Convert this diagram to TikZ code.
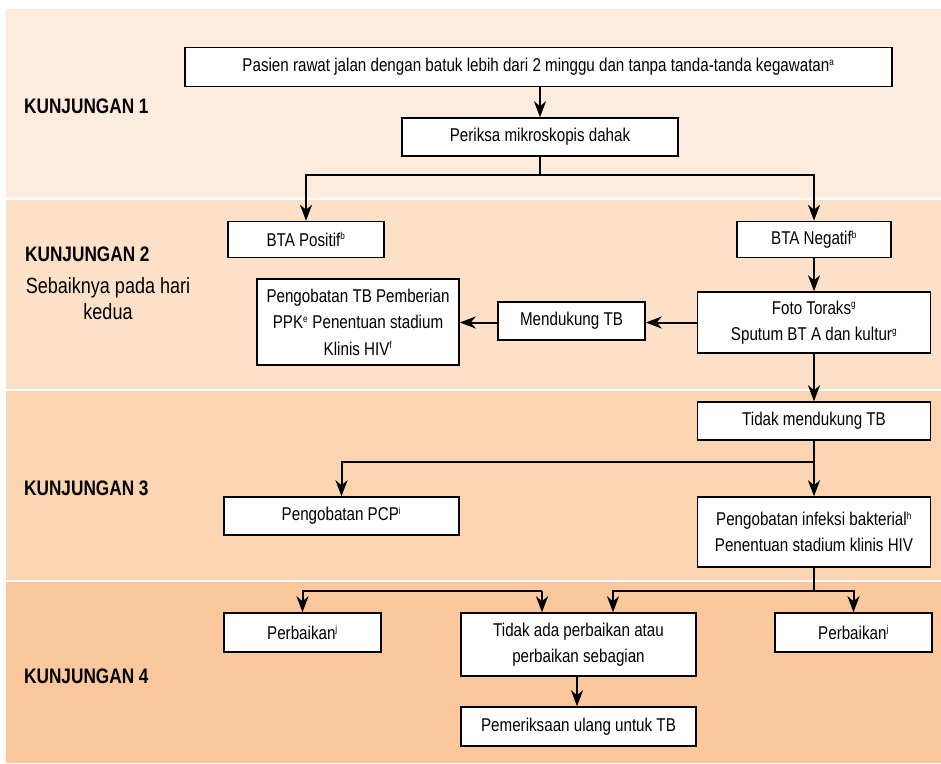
\documentclass[tikz,border=0pt]{standalone}
\usepackage{fontspec}
\setmainfont{Liberation Sans}[FakeStretch=0.82]
\usetikzlibrary{arrows.meta,calc}
\definecolor{bandA}{RGB}{253,235,221}
\definecolor{bandB}{RGB}{252,224,200}
\definecolor{bandC}{RGB}{251,212,178}
\definecolor{bandD}{RGB}{250,200,156}
\tikzset{
  box/.style={draw=black, line width=1.5pt, fill=white, inner sep=0pt, align=center,
    font=\fontsize{18.5}{26.5}\selectfont},
  arr/.style={line width=2pt, -{Stealth[length=16pt,width=12pt,inset=5pt]}},
  ln/.style={line width=2pt},
  visit/.style={anchor=west, font=\fontsize{21}{24}\selectfont\bfseries, inner sep=0pt},
  note/.style={align=center, font=\fontsize{22}{26}\selectfont, inner sep=0pt}
}
\newcommand{\sps}[1]{\textsuperscript{\fontsize{10}{10}\selectfont #1}}
\begin{document}
\begin{tikzpicture}[x=1pt,y=-1pt]
\useasboundingbox (0,0) rectangle (941,763);
\fill[white] (0,0) rectangle (941,763);
% bands
\fill[bandA] (6,9) rectangle (941,197.5);
\fill[bandB] (6,199.5) rectangle (941,389);
\fill[bandC] (6,391) rectangle (941,580);
\fill[bandD] (6,582) rectangle (941,763);
% visit labels
\node[visit] (k1) at (24,106) {KUNJUNGAN 1};
\node[visit] (k2) at (25,254) {KUNJUNGAN 2};
\node[note] (k2n) at (108,299) {Sebaiknya pada hari\\kedua};
\node[visit] (k3) at (24,488) {KUNJUNGAN 3};
\node[visit] (k4) at (24,676) {KUNJUNGAN 4};
% boxes
\node[box, minimum width=707pt, minimum height=39pt] (pasien) at (538.5,67) {Pasien rawat jalan dengan batuk lebih dari 2 minggu dan tanpa tanda-tanda kegawatan\sps{a}};
\node[box, minimum width=276pt, minimum height=38pt] (periksa) at (540,137) {Periksa mikroskopis dahak};
\node[box, minimum width=156pt, minimum height=36pt] (btapos) at (306,239.5) {BTA Positif\sps{b}};
\node[box, minimum width=154pt, minimum height=36pt] (btaneg) at (814,239.5) {BTA Negatif\sps{b}};
\node[box, minimum width=202pt, minimum height=86pt] (obatTB) at (358,322) {Pengobatan TB Pemberian\\PPK\sps{e} Penentuan stadium\\Klinis HIV\sps{f}};
\node[box, minimum width=147pt, minimum height=38pt] (dukung) at (571.5,321) {Mendukung TB};
\node[box, minimum width=233pt, minimum height=61pt] (foto) at (814,322.5) {Foto Toraks\sps{g}\\Sputum BT A dan kultur\sps{g}};
\node[box, minimum width=233pt, minimum height=38pt] (tidak) at (814,421) {Tidak mendukung TB};
\node[box, minimum width=235pt, minimum height=38pt] (pcp) at (341.5,516) {Pengobatan PCP\sps{i}};
\node[box, minimum width=233pt, minimum height=70pt] (infeksi) at (814,532) {Pengobatan infeksi bakterial\sps{h}\\Penentuan stadium klinis HIV};
\node[box, minimum width=157pt, minimum height=39pt] (perbL) at (302.5,632.5) {Perbaikan\sps{j}};
\node[box, minimum width=235pt, minimum height=63pt] (tidakada) at (578.5,644.5) {Tidak ada perbaikan atau\\perbaikan sebagian};
\node[box, minimum width=157pt, minimum height=39pt] (perbR) at (853.5,632.5) {Perbaikan\sps{j}};
\node[box, minimum width=235pt, minimum height=39pt] (periksaUlang) at (578.5,726.5) {Pemeriksaan ulang untuk TB};
% coordinates
\coordinate (s1) at (540,175);
\coordinate (s2) at (814,462);
\coordinate (s3) at (814,591);
\coordinate (t3) at (613,591);
\coordinate (l2) at (542,591);
% connectors
\draw[arr] (pasien.south -| periksa.north) -- (periksa.north);
\draw[ln] (periksa.south) -- (s1);
\draw[arr] (s1) -| (btapos.north);
\draw[arr] (s1) -| (btaneg.north);
\draw[arr] (btaneg.south) -- (foto.north);
\draw[arr] (foto.west) -- (dukung.east |- foto.west);
\draw[arr] (dukung.west |- foto.west) -- (obatTB.east |- foto.west);
\draw[arr] (foto.south) -- (tidak.north);
\draw[ln] (tidak.south) -- (s2);
\draw[arr] (s2) -| (pcp.north);
\draw[arr] (s2) -- (infeksi.north);
\draw[ln] (infeksi.south) -- (s3);
\draw[arr] (s3) -| (perbR.north);
\draw[arr] (s3) -- (t3) -- (t3 |- tidakada.north);
\draw[arr] (l2) -| (perbL.north);
\draw[arr] (l2) -- (l2 |- tidakada.north);
\draw[arr] (tidakada.south -| 577,0) -- (periksaUlang.north -| 577,0);
\end{tikzpicture}
\end{document}
